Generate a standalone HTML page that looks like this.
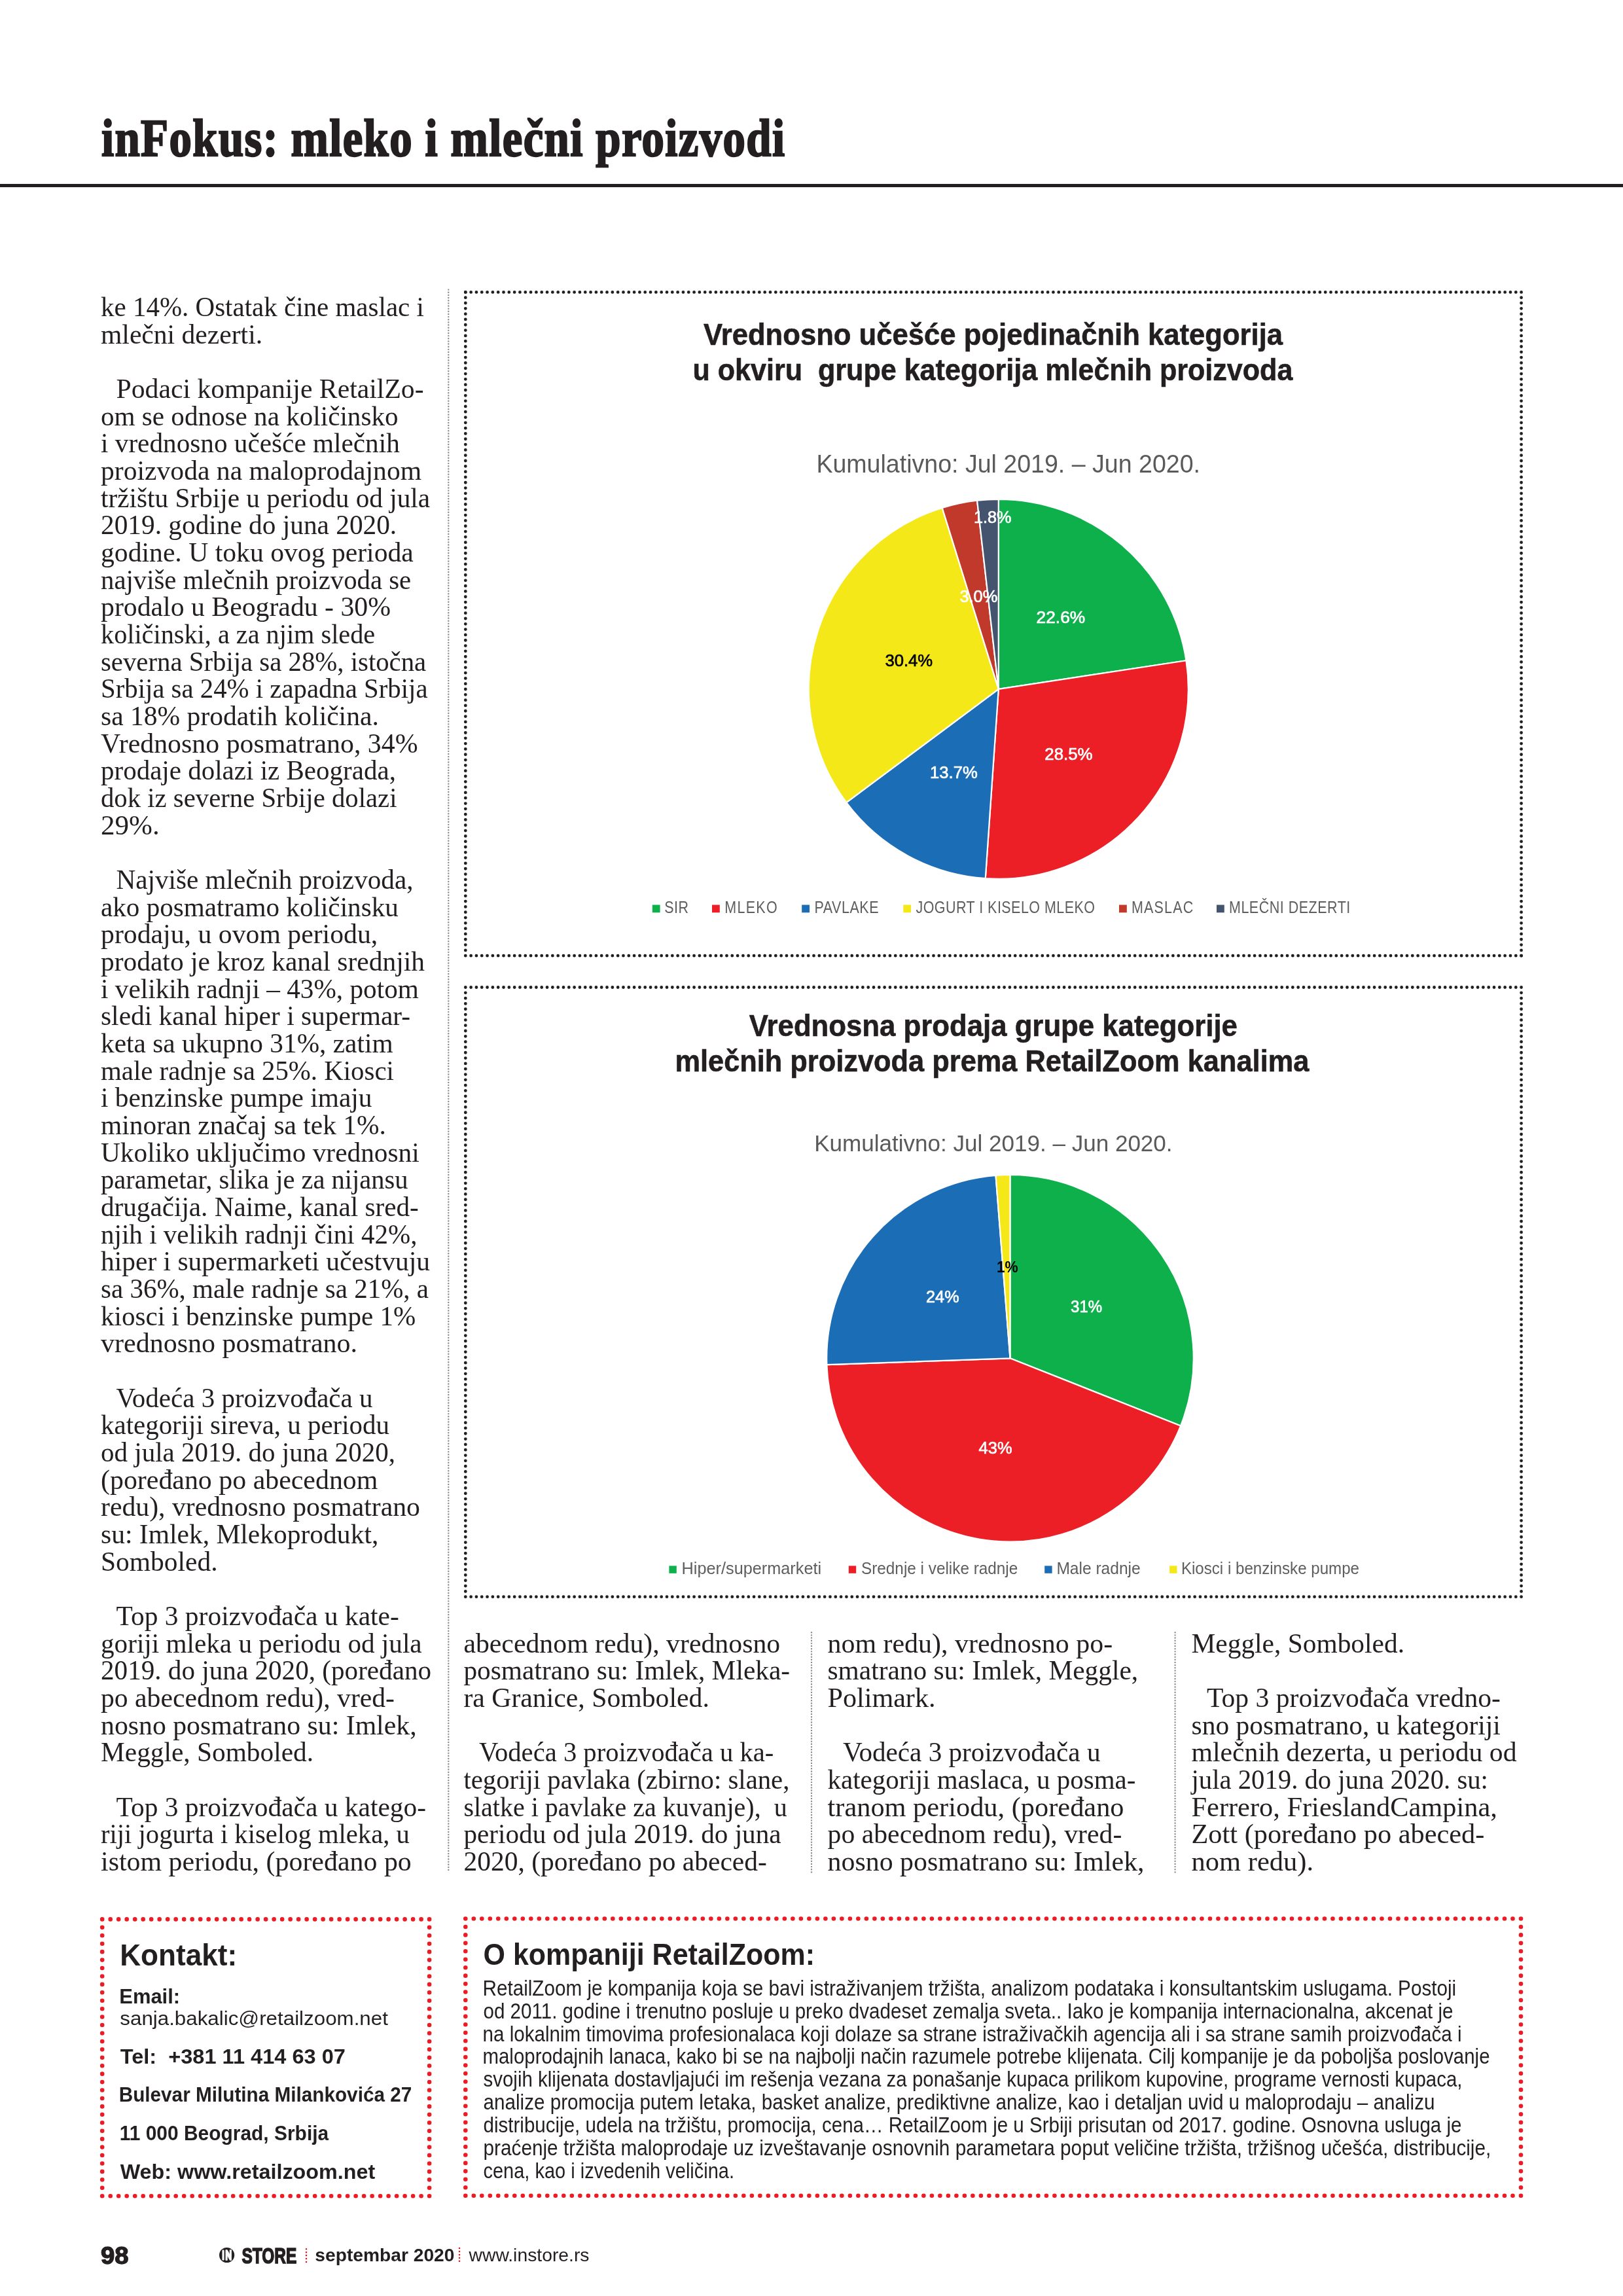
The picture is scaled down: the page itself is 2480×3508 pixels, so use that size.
<!DOCTYPE html>
<html><head><meta charset="utf-8"><title>inFokus: mleko i mlečni proizvodi</title>
<style>
html,body{margin:0;padding:0;background:#fff;}
body{width:2480px;height:3508px;position:relative;overflow:hidden;color:#231f20;}
.ov{position:absolute;left:0;top:0;will-change:transform;}
.title{position:absolute;left:156px;top:160px;font-family:"Liberation Serif", serif;font-weight:bold;font-size:80px;line-height:100px;white-space:nowrap;letter-spacing:-1px;}
.rule{position:absolute;left:0;top:281px;width:2480px;height:5px;background:#231f20;}
.body{position:absolute;font-family:"Liberation Serif", serif;font-size:41.667px;line-height:41.667px;}
.ln{height:41.667px;white-space:pre;}
.bt{font-family:"Liberation Serif", serif;font-size:41.667px;fill:#231f20;white-space:pre;}
.htitle{font-family:"Liberation Serif", serif;font-weight:bold;font-size:80px;fill:#231f20;stroke:#231f20;stroke-width:2.4px;}
.plabb{font-family:"Liberation Sans", sans-serif;font-weight:bold;font-size:24px;stroke-width:0;}
.ctitle{font-family:"Liberation Sans", sans-serif;font-weight:bold;font-size:46px;fill:#231f20;stroke:#231f20;stroke-width:0.6px;}
.csub{font-family:"Liberation Sans", sans-serif;font-size:38.5px;fill:#5a5a5a;}
.csub2{font-family:"Liberation Sans", sans-serif;font-size:35.3px;fill:#5a5a5a;}
.plab{font-family:"Liberation Sans", sans-serif;font-size:25.5px;stroke-width:0.7px;}
.cleg{font-family:"Liberation Sans", sans-serif;font-size:25px;fill:#5e5e5e;}
.kh{font-family:"Liberation Sans", sans-serif;font-weight:bold;font-size:46px;fill:#231f20;}
.kb{font-family:"Liberation Sans", sans-serif;font-weight:bold;font-size:31.5px;fill:#231f20;}
.kr{font-family:"Liberation Sans", sans-serif;font-size:30px;fill:#231f20;}
.ab{font-family:"Liberation Sans", sans-serif;font-size:32.5px;fill:#231f20;}
.f98{font-family:"Liberation Sans", sans-serif;font-weight:bold;font-size:37px;fill:#231f20;stroke:#231f20;stroke-width:1.4px;}
.fin{font-family:"Liberation Sans", sans-serif;font-weight:bold;font-size:19px;fill:#fff;}
.fst{font-family:"Liberation Sans", sans-serif;font-weight:bold;font-size:33px;fill:#231f20;stroke:#231f20;stroke-width:1.6px;}
.fse{font-family:"Liberation Sans", sans-serif;font-weight:bold;font-size:28px;fill:#231f20;}
.fww{font-family:"Liberation Sans", sans-serif;font-size:28px;fill:#231f20;}
</style></head><body>

<div class="rule"></div>
<svg class="ov" width="2480" height="3508" viewBox="0 0 2480 3508">
<text x="154.00" y="483.00" class="bt" textLength="493.90" lengthAdjust="spacingAndGlyphs">ke 14%. Ostatak čine maslac i</text><text x="154.00" y="524.67" class="bt" textLength="247.10" lengthAdjust="spacingAndGlyphs">mlečni dezerti.</text><text x="177.50" y="608.00" class="bt" textLength="470.10" lengthAdjust="spacingAndGlyphs">Podaci kompanije RetailZo-</text><text x="154.00" y="649.67" class="bt" textLength="454.50" lengthAdjust="spacingAndGlyphs">om se odnose na količinsko</text><text x="154.00" y="691.34" class="bt" textLength="456.80" lengthAdjust="spacingAndGlyphs">i vrednosno učešće mlečnih</text><text x="154.00" y="733.00" class="bt" textLength="490.10" lengthAdjust="spacingAndGlyphs">proizvoda na maloprodajnom</text><text x="154.00" y="774.67" class="bt" textLength="503.10" lengthAdjust="spacingAndGlyphs">tržištu Srbije u periodu od jula</text><text x="154.00" y="816.34" class="bt" textLength="452.20" lengthAdjust="spacingAndGlyphs">2019. godine do juna 2020.</text><text x="154.00" y="858.00" class="bt" textLength="477.80" lengthAdjust="spacingAndGlyphs">godine. U toku ovog perioda</text><text x="154.00" y="899.67" class="bt" textLength="474.20" lengthAdjust="spacingAndGlyphs">najviše mlečnih proizvoda se</text><text x="154.00" y="941.34" class="bt" textLength="443.00" lengthAdjust="spacingAndGlyphs">prodalo u Beogradu - 30%</text><text x="154.00" y="983.00" class="bt" textLength="419.20" lengthAdjust="spacingAndGlyphs">količinski, a za njim slede</text><text x="154.00" y="1024.67" class="bt" textLength="497.20" lengthAdjust="spacingAndGlyphs">severna Srbija sa 28%, istočna</text><text x="154.00" y="1066.34" class="bt" textLength="499.50" lengthAdjust="spacingAndGlyphs">Srbija sa 24% i zapadna Srbija</text><text x="154.00" y="1108.01" class="bt" textLength="424.80" lengthAdjust="spacingAndGlyphs">sa 18% prodatih količina.</text><text x="154.00" y="1149.67" class="bt" textLength="484.60" lengthAdjust="spacingAndGlyphs">Vrednosno posmatrano, 34%</text><text x="154.00" y="1191.34" class="bt" textLength="450.90" lengthAdjust="spacingAndGlyphs">prodaje dolazi iz Beograda,</text><text x="154.00" y="1233.01" class="bt" textLength="452.50" lengthAdjust="spacingAndGlyphs">dok iz severne Srbije dolazi</text><text x="154.00" y="1274.67" class="bt" textLength="89.70" lengthAdjust="spacingAndGlyphs">29%.</text><text x="177.50" y="1358.01" class="bt" textLength="454.00" lengthAdjust="spacingAndGlyphs">Najviše mlečnih proizvoda,</text><text x="154.00" y="1399.67" class="bt" textLength="454.80" lengthAdjust="spacingAndGlyphs">ako posmatramo količinsku</text><text x="154.00" y="1441.34" class="bt" textLength="423.30" lengthAdjust="spacingAndGlyphs">prodaju, u ovom periodu,</text><text x="154.00" y="1483.01" class="bt" textLength="494.90" lengthAdjust="spacingAndGlyphs">prodato je kroz kanal srednjih</text><text x="154.00" y="1524.67" class="bt" textLength="485.90" lengthAdjust="spacingAndGlyphs">i velikih radnji – 43%, potom</text><text x="154.00" y="1566.34" class="bt" textLength="473.10" lengthAdjust="spacingAndGlyphs">sledi kanal hiper i supermar-</text><text x="154.00" y="1608.01" class="bt" textLength="446.60" lengthAdjust="spacingAndGlyphs">keta sa ukupno 31%, zatim</text><text x="154.00" y="1649.68" class="bt" textLength="447.90" lengthAdjust="spacingAndGlyphs">male radnje sa 25%. Kiosci</text><text x="154.00" y="1691.34" class="bt" textLength="414.40" lengthAdjust="spacingAndGlyphs">i benzinske pumpe imaju</text><text x="154.00" y="1733.01" class="bt" textLength="435.80" lengthAdjust="spacingAndGlyphs">minoran značaj sa tek 1%.</text><text x="154.00" y="1774.68" class="bt" textLength="486.70" lengthAdjust="spacingAndGlyphs">Ukoliko uključimo vrednosni</text><text x="154.00" y="1816.34" class="bt" textLength="469.60" lengthAdjust="spacingAndGlyphs">parametar, slika je za nijansu</text><text x="154.00" y="1858.01" class="bt" textLength="485.70" lengthAdjust="spacingAndGlyphs">drugačija. Naime, kanal sred-</text><text x="154.00" y="1899.68" class="bt" textLength="483.60" lengthAdjust="spacingAndGlyphs">njih i velikih radnji čini 42%,</text><text x="154.00" y="1941.35" class="bt" textLength="503.10" lengthAdjust="spacingAndGlyphs">hiper i supermarketi učestvuju</text><text x="154.00" y="1983.01" class="bt" textLength="501.00" lengthAdjust="spacingAndGlyphs">sa 36%, male radnje sa 21%, a</text><text x="154.00" y="2024.68" class="bt" textLength="481.30" lengthAdjust="spacingAndGlyphs">kiosci i benzinske pumpe 1%</text><text x="154.00" y="2066.35" class="bt" textLength="392.10" lengthAdjust="spacingAndGlyphs">vrednosno posmatrano.</text><text x="177.50" y="2149.68" class="bt" textLength="392.00" lengthAdjust="spacingAndGlyphs">Vodeća 3 proizvođača u</text><text x="154.00" y="2191.35" class="bt" textLength="441.00" lengthAdjust="spacingAndGlyphs">kategoriji sireva, u periodu</text><text x="154.00" y="2233.01" class="bt" textLength="449.90" lengthAdjust="spacingAndGlyphs">od jula 2019. do juna 2020,</text><text x="154.00" y="2274.68" class="bt" textLength="423.40" lengthAdjust="spacingAndGlyphs">(poređano po abecednom</text><text x="154.00" y="2316.35" class="bt" textLength="488.00" lengthAdjust="spacingAndGlyphs">redu), vrednosno posmatrano</text><text x="154.00" y="2358.02" class="bt" textLength="424.30" lengthAdjust="spacingAndGlyphs">su: Imlek, Mlekoprodukt,</text><text x="154.00" y="2399.68" class="bt" textLength="178.50" lengthAdjust="spacingAndGlyphs">Somboled.</text><text x="177.50" y="2483.02" class="bt" textLength="432.30" lengthAdjust="spacingAndGlyphs">Top 3 proizvođača u kate-</text><text x="154.00" y="2524.68" class="bt" textLength="490.60" lengthAdjust="spacingAndGlyphs">goriji mleka u periodu od jula</text><text x="154.00" y="2566.35" class="bt" textLength="505.10" lengthAdjust="spacingAndGlyphs">2019. do juna 2020, (poređano</text><text x="154.00" y="2608.02" class="bt" textLength="449.00" lengthAdjust="spacingAndGlyphs">po abecednom redu), vred-</text><text x="154.00" y="2649.68" class="bt" textLength="482.60" lengthAdjust="spacingAndGlyphs">nosno posmatrano su: Imlek,</text><text x="154.00" y="2691.35" class="bt" textLength="325.10" lengthAdjust="spacingAndGlyphs">Meggle, Somboled.</text><text x="177.50" y="2774.68" class="bt" textLength="473.60" lengthAdjust="spacingAndGlyphs">Top 3 proizvođača u katego-</text><text x="154.00" y="2816.35" class="bt" textLength="471.90" lengthAdjust="spacingAndGlyphs">riji jogurta i kiselog mleka, u</text><text x="154.00" y="2858.02" class="bt" textLength="474.80" lengthAdjust="spacingAndGlyphs">istom periodu, (poređano po</text>
<text x="708.40" y="2524.70" class="bt" textLength="483.80" lengthAdjust="spacingAndGlyphs">abecednom redu), vrednosno</text><text x="708.40" y="2566.37" class="bt" textLength="498.70" lengthAdjust="spacingAndGlyphs">posmatrano su: Imlek, Mleka-</text><text x="708.40" y="2608.03" class="bt" textLength="375.50" lengthAdjust="spacingAndGlyphs">ra Granice, Somboled.</text><text x="731.90" y="2691.37" class="bt" textLength="450.50" lengthAdjust="spacingAndGlyphs">Vodeća 3 proizvođača u ka-</text><text x="708.40" y="2733.03" class="bt" textLength="498.00" lengthAdjust="spacingAndGlyphs">tegoriji pavlaka (zbirno: slane,</text><text x="708.40" y="2774.70" class="bt" textLength="494.30" lengthAdjust="spacingAndGlyphs">slatke i pavlake za kuvanje),  u</text><text x="708.40" y="2816.37" class="bt" textLength="485.20" lengthAdjust="spacingAndGlyphs">periodu od jula 2019. do juna</text><text x="708.40" y="2858.04" class="bt" textLength="463.50" lengthAdjust="spacingAndGlyphs">2020, (poređano po abeced-</text>
<text x="1264.50" y="2524.70" class="bt" textLength="435.60" lengthAdjust="spacingAndGlyphs">nom redu), vrednosno po-</text><text x="1264.50" y="2566.37" class="bt" textLength="474.70" lengthAdjust="spacingAndGlyphs">smatrano su: Imlek, Meggle,</text><text x="1264.50" y="2608.03" class="bt" textLength="165.00" lengthAdjust="spacingAndGlyphs">Polimark.</text><text x="1288.00" y="2691.37" class="bt" textLength="393.50" lengthAdjust="spacingAndGlyphs">Vodeća 3 proizvođača u</text><text x="1264.50" y="2733.03" class="bt" textLength="470.80" lengthAdjust="spacingAndGlyphs">kategoriji maslaca, u posma-</text><text x="1264.50" y="2774.70" class="bt" textLength="453.00" lengthAdjust="spacingAndGlyphs">tranom periodu, (poređano</text><text x="1264.50" y="2816.37" class="bt" textLength="449.80" lengthAdjust="spacingAndGlyphs">po abecednom redu), vred-</text><text x="1264.50" y="2858.04" class="bt" textLength="484.10" lengthAdjust="spacingAndGlyphs">nosno posmatrano su: Imlek,</text>
<text x="1820.50" y="2524.70" class="bt" textLength="325.50" lengthAdjust="spacingAndGlyphs">Meggle, Somboled.</text><text x="1844.00" y="2608.03" class="bt" textLength="448.90" lengthAdjust="spacingAndGlyphs">Top 3 proizvođača vredno-</text><text x="1820.50" y="2649.70" class="bt" textLength="472.40" lengthAdjust="spacingAndGlyphs">sno posmatrano, u kategoriji</text><text x="1820.50" y="2691.37" class="bt" textLength="497.10" lengthAdjust="spacingAndGlyphs">mlečnih dezerta, u periodu od</text><text x="1820.50" y="2733.03" class="bt" textLength="453.40" lengthAdjust="spacingAndGlyphs">jula 2019. do juna 2020. su:</text><text x="1820.50" y="2774.70" class="bt" textLength="467.30" lengthAdjust="spacingAndGlyphs">Ferrero, FrieslandCampina,</text><text x="1820.50" y="2816.37" class="bt" textLength="447.80" lengthAdjust="spacingAndGlyphs">Zott (poređano po abeced-</text><text x="1820.50" y="2858.04" class="bt" textLength="186.60" lengthAdjust="spacingAndGlyphs">nom redu).</text>
</svg>
<svg class="ov" width="2480" height="3508" viewBox="0 0 2480 3508"><line x1="685.3" y1="442.6" x2="685.3" y2="2857.05" stroke="#8c8c8c" stroke-width="2.4" stroke-linecap="round" stroke-dasharray="0 4.1485"/><line x1="1240.0" y1="2494.2" x2="1240.0" y2="2860.45" stroke="#8c8c8c" stroke-width="2.4" stroke-linecap="round" stroke-dasharray="0 4.1614"/><line x1="1795.6" y1="2494.2" x2="1795.6" y2="2860.45" stroke="#8c8c8c" stroke-width="2.4" stroke-linecap="round" stroke-dasharray="0 4.1614"/><line x1="711.3" y1="446.4" x2="2324.6" y2="446.4" stroke="#231f20" stroke-width="4.8" stroke-linecap="round" stroke-dasharray="0 8.3160"/>
<line x1="2324.6" y1="446.4" x2="2324.6" y2="1460.2" stroke="#231f20" stroke-width="4.8" stroke-linecap="round" stroke-dasharray="0 8.3098"/>
<line x1="2324.6" y1="1460.2" x2="711.3" y2="1460.2" stroke="#231f20" stroke-width="4.8" stroke-linecap="round" stroke-dasharray="0 8.3160"/>
<line x1="711.3" y1="1460.2" x2="711.3" y2="446.4" stroke="#231f20" stroke-width="4.8" stroke-linecap="round" stroke-dasharray="0 8.3098"/><line x1="711.3" y1="1508.5" x2="2324.6" y2="1508.5" stroke="#231f20" stroke-width="4.8" stroke-linecap="round" stroke-dasharray="0 8.3160"/>
<line x1="2324.6" y1="1508.5" x2="2324.6" y2="2439.7" stroke="#231f20" stroke-width="4.8" stroke-linecap="round" stroke-dasharray="0 8.3143"/>
<line x1="2324.6" y1="2439.7" x2="711.3" y2="2439.7" stroke="#231f20" stroke-width="4.8" stroke-linecap="round" stroke-dasharray="0 8.3160"/>
<line x1="711.3" y1="2439.7" x2="711.3" y2="1508.5" stroke="#231f20" stroke-width="4.8" stroke-linecap="round" stroke-dasharray="0 8.3143"/><line x1="156.2" y1="2932.4" x2="656.1" y2="2932.4" stroke="#ed1c24" stroke-width="6.6" stroke-linecap="round" stroke-dasharray="0 12.4975"/>
<line x1="656.1" y1="2932.4" x2="656.1" y2="3355.2" stroke="#ed1c24" stroke-width="6.6" stroke-linecap="round" stroke-dasharray="0 12.4353"/>
<line x1="656.1" y1="3355.2" x2="156.2" y2="3355.2" stroke="#ed1c24" stroke-width="6.6" stroke-linecap="round" stroke-dasharray="0 12.4975"/>
<line x1="156.2" y1="3355.2" x2="156.2" y2="2932.4" stroke="#ed1c24" stroke-width="6.6" stroke-linecap="round" stroke-dasharray="0 12.4353"/><line x1="711.3" y1="2931.5" x2="2324" y2="2931.5" stroke="#ed1c24" stroke-width="6.6" stroke-linecap="round" stroke-dasharray="0 12.5016"/>
<line x1="2324" y1="2931.5" x2="2324" y2="3354.7" stroke="#ed1c24" stroke-width="6.6" stroke-linecap="round" stroke-dasharray="0 12.4471"/>
<line x1="2324" y1="3354.7" x2="711.3" y2="3354.7" stroke="#ed1c24" stroke-width="6.6" stroke-linecap="round" stroke-dasharray="0 12.5016"/>
<line x1="711.3" y1="3354.7" x2="711.3" y2="2931.5" stroke="#ed1c24" stroke-width="6.6" stroke-linecap="round" stroke-dasharray="0 12.4471"/><path d="M1525.8,1052.8 L1525.80,762.80 A290,290 0 0 1 1812.51,1009.23 Z" fill="#0db04b" stroke="#fff" stroke-width="2.2" stroke-linejoin="round"/>
<path d="M1525.8,1052.8 L1812.51,1009.23 A290,290 0 0 1 1505.77,1342.11 Z" fill="#ec1f26" stroke="#fff" stroke-width="2.2" stroke-linejoin="round"/>
<path d="M1525.8,1052.8 L1505.77,1342.11 A290,290 0 0 1 1293.35,1226.19 Z" fill="#1b6db6" stroke="#fff" stroke-width="2.2" stroke-linejoin="round"/>
<path d="M1525.8,1052.8 L1293.35,1226.19 A290,290 0 0 1 1439.66,775.89 Z" fill="#f4e819" stroke="#fff" stroke-width="2.2" stroke-linejoin="round"/>
<path d="M1525.8,1052.8 L1439.66,775.89 A290,290 0 0 1 1493.07,764.65 Z" fill="#c0392b" stroke="#fff" stroke-width="2.2" stroke-linejoin="round"/>
<path d="M1525.8,1052.8 L1493.07,764.65 A290,290 0 0 1 1525.80,762.80 Z" fill="#44536e" stroke="#fff" stroke-width="2.2" stroke-linejoin="round"/><path d="M1543.5,2075.3 L1543.50,1795.00 A280.3,280.3 0 0 1 1804.12,2178.49 Z" fill="#0db04b" stroke="#fff" stroke-width="2.2" stroke-linejoin="round"/>
<path d="M1543.5,2075.3 L1804.12,2178.49 A280.3,280.3 0 0 1 1263.37,2085.08 Z" fill="#ec1f26" stroke="#fff" stroke-width="2.2" stroke-linejoin="round"/>
<path d="M1543.5,2075.3 L1263.37,2085.08 A280.3,280.3 0 0 1 1521.51,1795.86 Z" fill="#1b6db6" stroke="#fff" stroke-width="2.2" stroke-linejoin="round"/>
<path d="M1543.5,2075.3 L1521.51,1795.86 A280.3,280.3 0 0 1 1543.50,1795.00 Z" fill="#f4e819" stroke="#fff" stroke-width="2.2" stroke-linejoin="round"/><line x1="468.0" y1="3436.2" x2="468.0" y2="3456.05" stroke="#e8101a" stroke-width="2.5" stroke-linecap="round" stroke-dasharray="0 4.9500"/><line x1="702.0" y1="3435.0" x2="702.0" y2="3454.85" stroke="#e8101a" stroke-width="2.5" stroke-linecap="round" stroke-dasharray="0 4.9500"/></svg>
<svg class="ov" width="2480" height="3508" viewBox="0 0 2480 3508"><text transform="translate(155.00,237.8) scale(0.86,1)" x="0" y="0" class="htitle" textLength="1214.00" lengthAdjust="spacing">inFokus: mleko i mlečni proizvodi</text><text x="1075.00" y="526.80" class="ctitle" textLength="885.10" lengthAdjust="spacingAndGlyphs">Vrednosno učešće pojedinačnih kategorija</text><text x="1058.50" y="580.70" class="ctitle" textLength="916.90" lengthAdjust="spacingAndGlyphs">u okviru  grupe kategorija mlečnih proizvoda</text><text x="1247.40" y="721.70" class="csub" textLength="586.60" lengthAdjust="spacingAndGlyphs">Kumulativno: Jul 2019. – Jun 2020.</text><text x="1583.60" y="952.10" class="plab" fill="#fff" stroke="#fff" textLength="74.60" lengthAdjust="spacingAndGlyphs">22.6%</text><text x="1596.30" y="1160.70" class="plab" fill="#fff" stroke="#fff" textLength="73.20" lengthAdjust="spacingAndGlyphs">28.5%</text><text x="1421.10" y="1188.80" class="plab" fill="#fff" stroke="#fff" textLength="72.70" lengthAdjust="spacingAndGlyphs">13.7%</text><text x="1352.40" y="1017.50" class="plab" fill="#000" stroke="#000" textLength="72.80" lengthAdjust="spacingAndGlyphs">30.4%</text><text x="1466.40" y="919.90" class="plab" fill="#fff" stroke="#fff" textLength="57.80" lengthAdjust="spacingAndGlyphs">3.0%</text><text x="1488.00" y="798.80" class="plab" fill="#fff" stroke="#fff" textLength="57.50" lengthAdjust="spacingAndGlyphs">1.8%</text><rect x="996.8" y="1382.5" width="11.8" height="11.8" fill="#0db04b"/><text transform="scale(0.86,1)" x="1180.58" y="1394.70" class="cleg" textLength="42.56" lengthAdjust="spacing">SIR</text><rect x="1088" y="1382.5" width="11.8" height="11.8" fill="#ec1f26"/><text transform="scale(0.86,1)" x="1287.44" y="1394.70" class="cleg" textLength="93.60" lengthAdjust="spacing">MLEKO</text><rect x="1225.2" y="1382.5" width="11.8" height="11.8" fill="#1b6db6"/><text transform="scale(0.86,1)" x="1447.09" y="1394.70" class="cleg" textLength="113.95" lengthAdjust="spacing">PAVLAKE</text><rect x="1380.3" y="1382.5" width="11.8" height="11.8" fill="#f4e819"/><text transform="scale(0.86,1)" x="1627.33" y="1394.70" class="cleg" textLength="318.02" lengthAdjust="spacing">JOGURT I KISELO MLEKO</text><rect x="1710" y="1382.5" width="11.8" height="11.8" fill="#c0392b"/><text transform="scale(0.86,1)" x="2010.47" y="1394.70" class="cleg" textLength="109.53" lengthAdjust="spacing">MASLAC</text><rect x="1859" y="1382.5" width="11.8" height="11.8" fill="#44536e"/><text transform="scale(0.86,1)" x="2183.72" y="1394.70" class="cleg" textLength="215.47" lengthAdjust="spacing">MLEČNI DEZERTI</text><text x="1144.80" y="1583.20" class="ctitle" textLength="746.10" lengthAdjust="spacingAndGlyphs">Vrednosna prodaja grupe kategorije</text><text x="1031.40" y="1636.80" class="ctitle" textLength="969.00" lengthAdjust="spacingAndGlyphs">mlečnih proizvoda prema RetailZoom kanalima</text><text x="1244.20" y="1758.50" class="csub2" textLength="547.40" lengthAdjust="spacingAndGlyphs">Kumulativno: Jul 2019. – Jun 2020.</text><rect x="1022.4" y="2392.4" width="11.4" height="11.4" fill="#0db04b"/><text x="1041.60" y="2405.20" class="cleg" textLength="213.50" lengthAdjust="spacingAndGlyphs">Hiper/supermarketi</text><rect x="1296.8" y="2392.4" width="11.4" height="11.4" fill="#ec1f26"/><text x="1316.00" y="2405.20" class="cleg" textLength="239.30" lengthAdjust="spacingAndGlyphs">Srednje i velike radnje</text><rect x="1596.2" y="2392.4" width="11.4" height="11.4" fill="#1b6db6"/><text x="1614.40" y="2405.20" class="cleg" textLength="128.30" lengthAdjust="spacingAndGlyphs">Male radnje</text><rect x="1787.1" y="2392.4" width="11.4" height="11.4" fill="#f4e819"/><text x="1804.90" y="2405.20" class="cleg" textLength="272.10" lengthAdjust="spacingAndGlyphs">Kiosci i benzinske pumpe</text><text x="1636.10" y="2005.20" class="plab" fill="#fff" stroke="#fff" textLength="48.10" lengthAdjust="spacingAndGlyphs">31%</text><text x="1495.60" y="2220.80" class="plab" fill="#fff" stroke="#fff" textLength="50.90" lengthAdjust="spacingAndGlyphs">43%</text><text x="1415.10" y="1989.90" class="plab" fill="#fff" stroke="#fff" textLength="50.50" lengthAdjust="spacingAndGlyphs">24%</text><text x="1523.00" y="1943.70" class="plabb" fill="#000" stroke="#000" textLength="32.80" lengthAdjust="spacingAndGlyphs">1%</text><text x="183.20" y="3003.40" class="kh" textLength="178.90" lengthAdjust="spacingAndGlyphs">Kontakt:</text><text x="182.30" y="3060.70" class="kb" textLength="92.80" lengthAdjust="spacingAndGlyphs">Email:</text><text x="183.30" y="3094.00" class="kr" textLength="409.60" lengthAdjust="spacingAndGlyphs">sanja.bakalic@retailzoom.net</text><text x="183.70" y="3152.90" class="kb" textLength="344.20" lengthAdjust="spacingAndGlyphs">Tel:  +381 11 414 63 07</text><text x="181.70" y="3211.40" class="kb" textLength="447.60" lengthAdjust="spacingAndGlyphs">Bulevar Milutina Milankovića 27</text><text x="182.70" y="3269.70" class="kb" textLength="319.50" lengthAdjust="spacingAndGlyphs">11 000 Beograd, Srbija</text><text x="183.70" y="3328.90" class="kb" textLength="389.60" lengthAdjust="spacingAndGlyphs">Web: www.retailzoom.net</text><text x="738.50" y="3002.20" class="kh" textLength="506.60" lengthAdjust="spacingAndGlyphs">O kompaniji RetailZoom:</text><text x="737.50" y="3048.80" class="ab" textLength="1487.70" lengthAdjust="spacingAndGlyphs">RetailZoom je kompanija koja se bavi istraživanjem tržišta, analizom podataka i konsultantskim uslugama. Postoji</text><text x="738.50" y="3083.66" class="ab" textLength="1482.00" lengthAdjust="spacingAndGlyphs">od 2011. godine i trenutno posluje u preko dvadeset zemalja sveta.. Iako je kompanija internacionalna, akcenat je</text><text x="737.50" y="3118.52" class="ab" textLength="1496.00" lengthAdjust="spacingAndGlyphs">na lokalnim timovima profesionalaca koji dolaze sa strane istraživačkih agencija ali i sa strane samih proizvođača i</text><text x="737.50" y="3153.38" class="ab" textLength="1539.00" lengthAdjust="spacingAndGlyphs">maloprodajnih lanaca, kako bi se na najbolji način razumele potrebe klijenata. Cilj kompanije je da poboljša poslovanje</text><text x="738.50" y="3188.24" class="ab" textLength="1496.00" lengthAdjust="spacingAndGlyphs">svojih klijenata dostavljajući im rešenja vezana za ponašanje kupaca prilikom kupovine, programe vernosti kupaca,</text><text x="738.50" y="3223.10" class="ab" textLength="1454.00" lengthAdjust="spacingAndGlyphs">analize promocija putem letaka, basket analize, prediktivne analize, kao i detaljan uvid u maloprodaju – analizu</text><text x="738.50" y="3257.96" class="ab" textLength="1495.00" lengthAdjust="spacingAndGlyphs">distribucije, udela na tržištu, promocija, cena… RetailZoom je u Srbiji prisutan od 2017. godine. Osnovna usluga je</text><text x="738.50" y="3292.82" class="ab" textLength="1539.80" lengthAdjust="spacingAndGlyphs">praćenje tržišta maloprodaje uz izveštavanje osnovnih parametara poput veličine tržišta, tržišnog učešća, distribucije,</text><text x="738.50" y="3327.68" class="ab" textLength="383.50" lengthAdjust="spacingAndGlyphs">cena, kao i izvedenih veličina.</text><text x="154.00" y="3459.30" class="f98" textLength="42.50" lengthAdjust="spacingAndGlyphs">98</text><circle cx="346.6" cy="3445.5" r="11.6" fill="#231f20"/><rect x="339.5" y="3437.4" width="3.1" height="16.2" rx="1.4" fill="#fff"/><path d="M344.9,3437.6 L347.2,3437.6 L351.1,3444.6 L351.1,3437.6 L353.6,3437.6 L353.6,3453.4 L351.3,3453.4 L347.3,3446 L347.3,3453.4 L344.9,3453.4 Z" fill="#fff" stroke="#fff" stroke-width="0.7" stroke-linejoin="round"/><text x="369.50" y="3457.60" class="fst" textLength="83.80" lengthAdjust="spacingAndGlyphs">STORE</text><text x="481.30" y="3454.50" class="fse" textLength="213.20" lengthAdjust="spacingAndGlyphs">septembar 2020</text><text x="716.50" y="3454.50" class="fww" textLength="184.00" lengthAdjust="spacingAndGlyphs">www.instore.rs</text></svg>
</body></html>
